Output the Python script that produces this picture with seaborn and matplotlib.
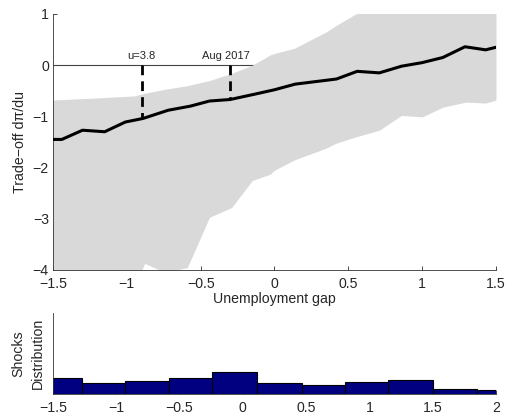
import numpy as np
import pandas as pd
import matplotlib
matplotlib.use("Agg")
import matplotlib.pyplot as plt
import seaborn as sns

sns.set_style("ticks")
plt.rcParams['font.family'] = ['Liberation Sans', 'DejaVu Sans']

# ---- data ----
gap = [-1.5, -1.44, -1.30, -1.15, -1.01, -0.89, -0.72, -0.57, -0.44, -0.30, -0.14,
       0.0, 0.14, 0.28, 0.42, 0.56, 0.71, 0.86, 1.0, 1.14, 1.29, 1.43, 1.5]
tradeoff = [-1.45, -1.45, -1.27, -1.30, -1.11, -1.04, -0.88, -0.80, -0.70, -0.67, -0.57,
            -0.48, -0.37, -0.32, -0.27, -0.12, -0.15, -0.02, 0.05, 0.15, 0.36, 0.30, 0.35]

band_x = [-1.5, -1.2, -0.95, -0.88, -0.74, -0.59, -0.44, -0.29, -0.15, -0.03,
          0.0, 0.135, 0.35, 0.42, 0.55, 0.71, 0.86, 1.0, 1.14, 1.30, 1.43, 1.5]
band_lo = [-4.6, -4.6, -4.4, -3.87, -4.05, -3.95, -2.97, -2.78, -2.25, -2.13,
           -2.05, -1.85, -1.62, -1.52, -1.40, -1.27, -0.98, -1.01, -0.82, -0.72, -0.74, -0.68]
band_hi = [-0.68, -0.64, -0.60, -0.55, -0.47, -0.40, -0.30, -0.16, 0.0, 0.20,
           0.23, 0.33, 0.65, 0.78, 1.0, 1.2, 1.3, 1.3, 1.3, 1.3, 1.3, 1.3]

markers_x = [-0.90, -0.30]
markers_y = [-1.04, -0.67]
markers_label = ["u=3.8", "Aug 2017"]
label_x = [-0.90, -0.33]

bin_edges = [-1.62, -1.27, -0.93, -0.58, -0.24, 0.11, 0.47, 0.81, 1.15, 1.50, 1.85, 2.2]
bin_heights = [0.20, 0.136, 0.16, 0.20, 0.27, 0.136, 0.11, 0.15, 0.17, 0.062, 0.05]

FS = 10.2

# ---- figure ----
fig = plt.figure(figsize=(5.06, 4.15), dpi=100)
ax = fig.add_axes([0.1047, 0.3494, 0.8755, 0.6169])
axh = fig.add_axes([0.1047, 0.0506, 0.8755, 0.1952])

ax.axhline(0, color='#444444', lw=0.8, zorder=1)
ax.fill_between(band_x, band_lo, band_hi, color='#d9d9d9', lw=0, zorder=2)
df = pd.DataFrame({'gap': gap, 'tradeoff': tradeoff})
sns.lineplot(data=df, x='gap', y='tradeoff', ax=ax, color='black', lw=2.2, zorder=4)
for mx, my, lab, lx in zip(markers_x, markers_y, markers_label, label_x):
    ax.plot([mx, mx], [0, my], color='black', lw=2.0, ls=(0, (3.5, 2.2)), zorder=5)
    ax.text(lx, 0.08, lab, ha='center', va='bottom', fontsize=8, zorder=6)

ax.set_xlim(-1.5, 1.5)
ax.set_ylim(-4, 1)
ax.set_xticks([-1.5, -1, -0.5, 0, 0.5, 1, 1.5])
ax.set_xticklabels(['\u22121.5', '\u22121', '\u22120.5', '0', '0.5', '1', '1.5'])
ax.set_yticks([-4, -3, -2, -1, 0, 1])
ax.set_yticklabels(['\u22124', '\u22123', '\u22122', '\u22121', '0', '1'])
ax.tick_params(direction='in', length=3, width=0.6, labelsize=FS)
ax.tick_params(axis='x', pad=5)
ax.tick_params(axis='y', pad=3)
for s in ['top', 'right']:
    ax.spines[s].set_visible(False)
for s in ['left', 'bottom']:
    ax.spines[s].set_linewidth(0.6)
    ax.spines[s].set_color('#333333')
ax.set_xlabel('Unemployment gap', fontsize=FS, labelpad=1)
ax.set_ylabel('Trade\u2212off d\u03c0/du', fontsize=FS, labelpad=4)

centers = [(a + b) / 2 for a, b in zip(bin_edges[:-1], bin_edges[1:])]
sns.histplot(x=centers, weights=bin_heights, bins=bin_edges, ax=axh,
             color='#000080', alpha=1, edgecolor='black', linewidth=0.8)
axh.set_xlim(-1.5, 2)
axh.set_ylim(0, 1)
axh.set_yticks([])
axh.set_xticks([-1.5, -1, -0.5, 0, 0.5, 1, 1.5, 2])
axh.set_xticklabels(['\u22121.5', '\u22121', '\u22120.5', '0', '0.5', '1', '1.5', '2'])
axh.tick_params(direction='in', length=3, width=0.6, labelsize=FS, pad=5)
for s in ['top', 'right']:
    axh.spines[s].set_visible(False)
for s in ['left', 'bottom']:
    axh.spines[s].set_linewidth(0.6)
    axh.spines[s].set_color('#333333')
axh.set_ylabel('Shocks\nDistribution', fontsize=FS, labelpad=6, linespacing=1.5)

fig.savefig('out.png', dpi=100)
